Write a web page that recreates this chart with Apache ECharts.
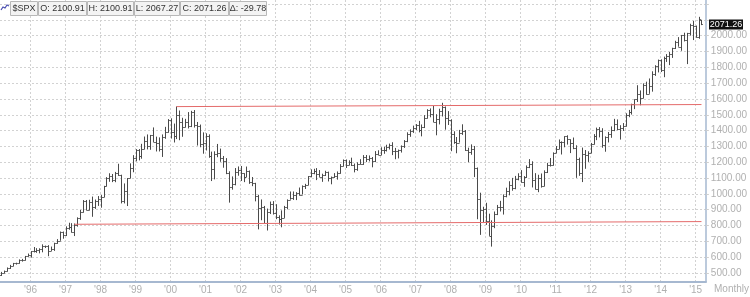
<!DOCTYPE html>
<html><head><meta charset="utf-8">
<script src="https://cdn.jsdelivr.net/npm/echarts@6/dist/echarts.min.js"></script>
<style>html,body{margin:0;padding:0;background:#fff}#c{width:750px;height:297px}</style>
</head><body><div id="c"></div><script>
// Monthly $SPX bars, Mar 1995 .. Mar 2015
const opens = [
487.4,500.7,514.7,533.4,544.8,562.1,561.9,584.4,581.5,605.4,
615.9,636.0,640.4,645.5,654.2,669.1,670.6,639.9,652.0,687.3,705.3,757.0,
740.7,786.2,790.8,757.1,801.3,848.3,885.1,954.3,899.5,947.3,914.6,955.4,
970.4,980.3,1049.3,1101.8,1111.8,1090.8,1133.8,1120.7,957.3,1017.0,1098.7,1163.6,
1229.2,1279.6,1238.3,1286.4,1335.2,1301.8,1372.7,1328.7,1320.4,1282.7,1362.9,1389.0,
1469.3,1394.5,1366.4,1498.6,1452.4,1420.6,1454.6,1430.8,1517.7,1436.5,1429.4,1315.2,
1320.3,1366.0,1239.9,1160.3,1249.5,1255.8,1224.4,1211.2,1133.6,1040.9,1059.8,1139.5,
1148.1,1130.2,1106.7,1147.4,1076.9,1067.1,989.8,911.6,916.1,815.3,885.8,936.3,
879.8,855.7,841.2,848.2,916.9,963.6,974.5,990.3,1008.0,996.0,1050.7,1058.2,
1111.9,1131.1,1144.9,1126.2,1107.3,1120.7,1140.8,1101.7,1104.2,1114.6,1130.2,1173.8,
1211.9,1181.3,1203.6,1180.6,1156.9,1191.5,1191.3,1234.2,1220.3,1228.8,1207.0,1249.5,
1248.3,1280.1,1280.7,1294.8,1310.6,1270.1,1270.2,1276.7,1303.8,1335.9,1377.9,1400.6,
1418.3,1438.2,1406.8,1420.9,1482.4,1530.6,1503.4,1455.3,1474.0,1526.8,1549.4,1481.1,
1468.4,1378.6,1330.6,1322.7,1385.6,1400.4,1280.0,1267.4,1282.8,1166.4,968.8,896.2,
903.3,825.9,735.1,797.9,872.8,919.1,919.3,987.5,1020.6,1057.1,1036.2,1095.6,
1115.1,1073.9,1104.5,1169.4,1186.7,1089.4,1030.7,1101.6,1049.3,1141.2,1183.3,1180.6,
1257.6,1286.1,1327.2,1325.8,1363.6,1345.2,1320.6,1292.3,1218.9,1131.4,1253.3,1247.0,
1257.6,1312.4,1365.7,1408.5,1397.9,1310.3,1362.2,1379.3,1406.6,1440.7,1412.2,1416.2,
1426.2,1498.1,1514.7,1569.2,1597.6,1630.7,1606.3,1685.7,1633.0,1681.6,1756.5,1805.8,
1848.4,1782.6,1859.5,1872.3,1883.9,1923.6,1960.2,1930.7,2003.4,1972.3,2018.1,2067.6,
2058.9,1995.0,2100.91];
const highs = [
507.0,515.3,535.0,551.1,563.8,565.0,586.0,589.0,608.0,622.9,
638.5,664.2,656.9,656.0,681.1,673.3,675.9,667.1,690.9,714.1,762.1,762.0,
794.7,817.7,814.9,812.9,851.9,898.7,961.0,961.5,963.0,983.1,964.5,986.3,
992.7,1051.0,1106.0,1130.5,1126.0,1139.0,1190.6,1121.4,1066.1,1100.0,1192.9,1244.9,
1283.0,1283.7,1316.6,1362.8,1375.9,1372.9,1420.3,1362.0,1357.2,1376.0,1424.0,1473.1,
1478.0,1444.6,1552.9,1527.2,1481.5,1474.6,1517.3,1525.2,1530.1,1454.8,1438.5,1389.1,
1383.4,1376.4,1267.4,1269.3,1315.9,1286.6,1239.8,1226.3,1143.0,1110.6,1163.4,1173.6,
1176.6,1130.2,1173.0,1147.8,1106.6,1070.0,994.5,965.0,924.0,907.4,951.6,954.3,
935.1,864.6,895.9,924.2,965.4,1015.3,1015.4,1011.0,1040.3,1053.8,1063.7,1112.6,
1155.4,1158.9,1163.2,1150.6,1127.7,1146.3,1140.8,1109.7,1131.5,1142.1,1188.5,1217.9,
1217.8,1212.4,1229.1,1191.9,1199.6,1219.6,1245.2,1245.9,1243.1,1233.3,1270.6,1275.8,
1294.9,1297.6,1310.9,1318.2,1326.7,1290.7,1280.4,1306.7,1340.3,1389.5,1407.9,1431.8,
1441.6,1461.6,1438.9,1498.0,1535.6,1540.6,1555.9,1503.9,1538.7,1576.1,1552.8,1523.6,
1471.8,1396.0,1359.7,1404.6,1440.2,1404.1,1292.2,1313.2,1303.0,1167.0,1007.5,918.9,
943.9,875.0,833.0,888.7,930.2,956.2,996.7,1039.5,1080.2,1101.4,1113.7,1130.4,
1150.4,1112.4,1180.2,1219.8,1206.2,1131.2,1121.0,1129.2,1148.9,1196.1,1227.1,1262.6,
1302.7,1344.1,1332.3,1364.6,1370.6,1345.2,1356.5,1307.4,1229.3,1293.0,1277.6,1269.4,
1322.3,1378.0,1419.2,1422.4,1415.3,1363.5,1391.7,1426.7,1474.5,1471.0,1434.3,1448.0,
1509.9,1530.9,1570.3,1597.6,1687.2,1654.2,1698.8,1709.7,1729.9,1775.2,1813.6,1849.4,
1850.8,1867.9,1884.0,1897.3,1924.0,1968.2,1991.4,2005.0,2019.3,2018.2,2075.8,2093.6,
2064.4,2119.6,2100.91];
const lows = [
481.5,497.5,509.0,526.0,542.5,553.0,559.0,572.0,578.5,603.0,
597.3,630.0,627.6,624.1,630.8,658.2,605.9,639.5,639.7,684.8,703.8,716.7,
733.5,773.4,756.0,733.5,793.2,835.8,882.1,896.8,896.3,855.3,905.4,924.2,
912.8,979.2,1047.0,1076.7,1074.4,1074.0,1114.3,939.9,939.9,923.3,1098.7,1136.9,
1205.5,1211.9,1222.5,1282.6,1281.4,1279.0,1328.4,1268.4,1268.4,1233.7,1348.4,1387.4,
1350.1,1325.1,1346.6,1339.4,1361.1,1420.6,1413.9,1422.5,1419.4,1305.8,1294.9,1254.1,
1274.6,1228.3,1081.2,1091.9,1232.0,1203.0,1165.5,1124.9,944.8,1026.8,1054.3,1114.9,
1081.7,1074.4,1106.7,1063.5,1048.9,952.9,775.7,833.4,815.3,768.6,872.7,869.5,
840.3,806.3,788.9,847.9,902.8,963.4,962.1,960.8,990.4,996.0,1031.2,1055.0,
1105.1,1124.4,1087.2,1107.2,1076.3,1113.3,1078.8,1060.7,1101.3,1090.2,1127.6,1173.8,
1163.8,1180.9,1176.9,1136.2,1146.2,1188.3,1183.6,1201.1,1205.4,1168.2,1201.1,1246.6,
1245.7,1253.6,1268.4,1280.7,1245.3,1219.3,1224.5,1261.3,1290.9,1327.1,1360.9,1385.9,
1403.9,1389.1,1363.9,1416.4,1476.7,1484.2,1454.3,1370.6,1439.3,1489.6,1406.1,1435.7,
1270.1,1316.8,1257.0,1324.4,1373.1,1272.0,1200.4,1247.5,1106.4,839.8,741.0,815.7,
804.2,734.5,666.8,783.3,866.1,888.9,869.3,978.5,991.0,1020.2,1029.4,1085.9,
1071.6,1044.5,1101.4,1163.0,1040.8,1028.3,1010.9,1039.7,1048.1,1131.9,1173.0,1179.0,
1257.6,1282.9,1249.1,1294.7,1311.8,1258.1,1282.9,1101.5,1114.2,1074.8,1158.7,1202.4,
1257.6,1312.4,1340.0,1357.4,1292.0,1266.7,1325.4,1354.7,1396.6,1403.3,1343.4,1398.1,
1426.2,1485.0,1501.5,1536.0,1581.3,1560.3,1604.6,1627.5,1633.0,1646.5,1746.2,1768.0,
1770.5,1737.9,1834.4,1814.4,1859.8,1916.0,1930.7,1904.8,1964.0,1820.7,2001.0,1972.6,
1988.1,1980.9,2067.27];
const closes = [
500.7,514.7,533.4,544.8,562.1,561.9,584.4,581.5,605.4,615.9,
636.0,640.4,645.5,654.2,669.1,670.6,639.9,652.0,687.3,705.3,757.0,740.7,
786.2,790.8,757.1,801.3,848.3,885.1,954.3,899.5,947.3,914.6,955.4,970.4,
980.3,1049.3,1101.8,1111.8,1090.8,1133.8,1120.7,957.3,1017.0,1098.7,1163.6,1229.2,
1279.6,1238.3,1286.4,1335.2,1301.8,1372.7,1328.7,1320.4,1282.7,1362.9,1389.0,1469.3,
1394.5,1366.4,1498.6,1452.4,1420.6,1454.6,1430.8,1517.7,1436.5,1429.4,1315.2,1320.3,
1366.0,1239.9,1160.3,1249.5,1255.8,1224.4,1211.2,1133.6,1040.9,1059.8,1139.5,1148.1,
1130.2,1106.7,1147.4,1076.9,1067.1,989.8,911.6,916.1,815.3,885.8,936.3,879.8,
855.7,841.2,848.2,916.9,963.6,974.5,990.3,1008.0,996.0,1050.7,1058.2,1111.9,
1131.1,1144.9,1126.2,1107.3,1120.7,1140.8,1101.7,1104.2,1114.6,1130.2,1173.8,1211.9,
1181.3,1203.6,1180.6,1156.9,1191.5,1191.3,1234.2,1220.3,1228.8,1207.0,1249.5,1248.3,
1280.1,1280.7,1294.8,1310.6,1270.1,1270.2,1276.7,1303.8,1335.9,1377.9,1400.6,1418.3,
1438.2,1406.8,1420.9,1482.4,1530.6,1503.4,1455.3,1474.0,1526.8,1549.4,1481.1,1468.4,
1378.6,1330.6,1322.7,1385.6,1400.4,1280.0,1267.4,1282.8,1166.4,968.8,896.2,903.3,
825.9,735.1,797.9,872.8,919.1,919.3,987.5,1020.6,1057.1,1036.2,1095.6,1115.1,
1073.9,1104.5,1169.4,1186.7,1089.4,1030.7,1101.6,1049.3,1141.2,1183.3,1180.6,1257.6,
1286.1,1327.2,1325.8,1363.6,1345.2,1320.6,1292.3,1218.9,1131.4,1253.3,1247.0,1257.6,
1312.4,1365.7,1408.5,1397.9,1310.3,1362.2,1379.3,1406.6,1440.7,1412.2,1416.2,1426.2,
1498.1,1514.7,1569.2,1597.6,1630.7,1606.3,1685.7,1633.0,1681.6,1756.5,1805.8,1848.4,
1782.6,1859.5,1872.3,1883.9,1923.6,1960.2,1930.7,2003.4,1972.3,2018.1,2067.6,2058.9,
1995.0,2104.5,2071.26];

const yLabelValues = [500,600,700,800,900,1000,1100,1200,1300,1400,1500,1600,1700,1800,1900,2000];
const yGridValues  = [500,600,700,800,900,1000,1100,1200,1300,1400,1500,1600,1700,1800,1900,2000,2100,2200];
const upperTrend = [['2000-03',1552],['2015-03',1565]];
const lowerTrend = [['1997-04',808],['2015-03',825]];
const changeText = '\u0394: -29.78';
const symbolText = '$SPX';

// month categories Mar 1995 .. Apr 2015 (last slot empty)
const categories = [];
for (let y = 1995, m = 3; categories.length < 242; ) {
  categories.push(y + '-' + String(m).padStart(2, '0'));
  m++; if (m > 12) { m = 1; y++; }
}
const bars = opens.map((o, i) => [i, o, highs[i], lows[i], closes[i]]);
const isJan = (idx, val) => String(val).slice(5) === '01';

const chart = echarts.init(document.getElementById('c'), null, {renderer: 'canvas'});
const FONT = 'Liberation Sans, Arial, sans-serif';
const option = {
  animation: false,
  grid: {left: 0, right: 42, top: 0, bottom: 15, containLabel: false},
  xAxis: {
    type: 'category', data: categories, boundaryGap: true,
    axisLine: {show: true, lineStyle: {color: '#a6b8d0', width: 2}},
    axisTick: {show: false, interval: isJan, alignWithLabel: true},
    axisLabel: {interval: isJan, formatter: v => "'" + v.slice(2, 4), color: '#b0b0b0', fontSize: 10, fontFamily: FONT, margin: 3},
    splitLine: {show: true, interval: isJan, alignWithLabel: true, lineStyle: {color: '#d2d2d2', type: [2, 2], width: 1}}
  },
  yAxis: {
    type: 'value', position: 'right', min: 443, max: 2226, scale: true,
    axisLine: {show: true, lineStyle: {color: '#a6b8d0', width: 1.5}},
    axisTick: {show: true, length: 3, inside: false, customValues: yGridValues, lineStyle: {color: '#cfcfcf'}},
    axisLabel: {customValues: yLabelValues, formatter: v => Number(v).toFixed(2), color: '#b0b0b0', fontSize: 10, fontFamily: FONT, margin: 5},
    splitLine: {show: true, lineStyle: {color: '#d2d2d2', type: [2, 2], width: 1}}
  },
  series: [
    {
      type: 'custom', data: bars, encode: {x: 0, y: [1, 2, 3, 4]}, clip: true,
      renderItem: (params, api) => {
        const i = api.value(0);
        const o = api.coord([i, api.value(1)]);
        const h = api.coord([i, api.value(2)]);
        const l = api.coord([i, api.value(3)]);
        const c = api.coord([i, api.value(4)]);
        const x = Math.round(h[0]) + 0.5;
        const w = 1.3;
        const st = {stroke: '#4a4a4a', lineWidth: 1};
        return {type: 'group', children: [
          {type: 'line', shape: {x1: x, y1: h[1], x2: x, y2: l[1]}, style: st},
          {type: 'line', shape: {x1: x - w, y1: Math.round(o[1]) + 0.5, x2: x, y2: Math.round(o[1]) + 0.5}, style: st},
          {type: 'line', shape: {x1: x, y1: Math.round(c[1]) + 0.5, x2: x + w, y2: Math.round(c[1]) + 0.5}, style: st}
        ]};
      }
    },
    {type: 'line', data: upperTrend, symbol: 'none', lineStyle: {color: '#e46a6a', width: 1}, silent: true},
    {type: 'line', data: lowerTrend, symbol: 'none', lineStyle: {color: '#e46a6a', width: 1}, silent: true}
  ]
};
chart.setOption(option);

// legend boxes and price marker
const last = bars.length - 1;
const legendItems = [
  [10, 27, symbolText],
  [38, 48, 'O: ' + opens[last].toFixed(2)],
  [87, 46, 'H: ' + highs[last].toFixed(2)],
  [134, 45, 'L: ' + lows[last].toFixed(2)],
  [180, 48, 'C: ' + closes[last].toFixed(2)],
  [229, 37, changeText]
];
const g = [];
g.push({type: 'polyline', shape: {points: [[1, 10], [3, 7], [5, 8], [7, 5], [9, 6]]}, style: {stroke: '#4a4fb0', lineWidth: 1.2, fill: null}});
legendItems.forEach(([x, w, t]) => {
  g.push({type: 'rect', shape: {x: x + 0.5, y: 1.5, width: w, height: 14}, style: {fill: '#f3f3f3', stroke: '#b8b8b8', lineWidth: 1}});
  g.push({type: 'text', x: x + w / 2 + 0.5, y: 8.5, style: {text: t, fill: '#333', font: '9px ' + FONT, align: 'center', verticalAlign: 'middle'}});
});
const py = chart.convertToPixel({yAxisIndex: 0}, closes[last]);
g.push({type: 'rect', shape: {x: 709, y: py - 5, width: 34, height: 10}, style: {fill: '#111'}});
g.push({type: 'text', x: 726, y: py + 0.5, style: {text: closes[last].toFixed(2), fill: '#fff', font: '9px ' + FONT, align: 'center', verticalAlign: 'middle'}});
g.push({type: 'text', x: 714, y: 289, style: {text: 'Monthly', fill: '#b0b0b0', font: '10px ' + FONT, align: 'left', verticalAlign: 'middle'}});
chart.setOption({graphic: g});
</script></body></html>
